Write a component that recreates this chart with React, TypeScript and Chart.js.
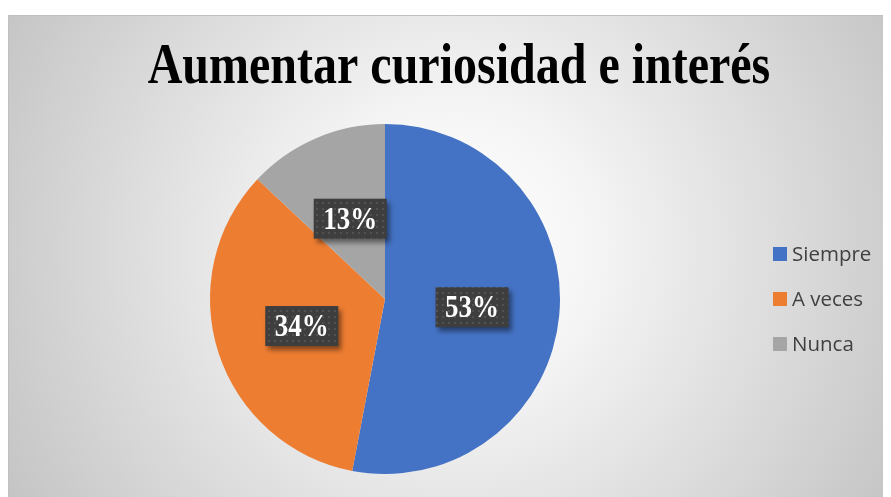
import React, { useEffect, useRef } from "react";
import { Chart, registerables } from "chart.js";

Chart.register(...registerables);

const chartTitle = "Aumentar curiosidad e interés";
const categories = ["Siempre", "A veces", "Nunca"];
const values = [53, 34, 13];
const sliceColors = ["#4472C4", "#ED7D31", "#A5A5A5"];

const W = 883;
const H = 489;

function makeDotPattern(ctx: CanvasRenderingContext2D) {
  const c = document.createElement("canvas");
  c.width = 6;
  c.height = 6;
  const p = c.getContext("2d")!;
  p.fillStyle = "#3e3e3e";
  p.fillRect(0, 0, 6, 6);
  p.fillStyle = "#525252";
  p.fillRect(2, 2, 2, 2);
  return ctx.createPattern(c, "repeat");
}

const decorPlugin = {
  id: "decor",
  beforeDraw(chart: any) {
    const ctx: CanvasRenderingContext2D = chart.ctx;
    ctx.save();
    ctx.fillStyle = "#ffffff";
    ctx.fillRect(0, 0, W, H);
    const g = ctx.createRadialGradient(445, 240, 0, 445, 240, 520);
    g.addColorStop(0, "#ffffff");
    g.addColorStop(0.25, "#f6f6f6");
    g.addColorStop(1, "#c3c3c3");
    ctx.fillStyle = g;
    ctx.fillRect(0, 7, W, H - 7);
    ctx.strokeStyle = "#c0c0c0";
    ctx.lineWidth = 1;
    ctx.beginPath();
    ctx.moveTo(0.5, H);
    ctx.lineTo(0.5, 7.5);
    ctx.lineTo(W, 7.5);
    ctx.stroke();

    // title
    ctx.fillStyle = "#000000";
    ctx.font = "bold 48px 'Liberation Serif'";
    ctx.textAlign = "center";
    ctx.textBaseline = "alphabetic";
    ctx.translate(451, 75);
    ctx.scale(1, 1.18);
    ctx.fillText(chartTitle, 0, 0);
    ctx.restore();
  },
  afterDatasetsDraw(chart: any) {
    const ctx: CanvasRenderingContext2D = chart.ctx;
    const meta = chart.getDatasetMeta(0);
    const pattern = makeDotPattern(ctx);
    meta.data.forEach((arc: any, i: number) => {
      const pos = arc.tooltipPosition();
      const text = values[i] + "%";
      ctx.save();
      ctx.font = "bold 27px 'Liberation Serif'";
      const tw = ctx.measureText(text).width;
      const bw = tw + 19;
      const bh = 40;
      const bx = pos.x - bw / 2;
      const by = pos.y - bh / 2;
      ctx.shadowColor = "rgba(0,0,0,0.45)";
      ctx.shadowBlur = 5;
      ctx.shadowOffsetX = 3;
      ctx.shadowOffsetY = 4;
      ctx.fillStyle = pattern || "#404040";
      ctx.fillRect(bx, by, bw, bh);
      ctx.shadowColor = "transparent";
      ctx.fillStyle = "#ffffff";
      ctx.textAlign = "center";
      ctx.textBaseline = "alphabetic";
      ctx.translate(pos.x, pos.y + 10);
      ctx.scale(1, 1.15);
      ctx.fillText(text, 0, 0);
      ctx.restore();
    });
  },
  afterDraw(chart: any) {
    const ctx: CanvasRenderingContext2D = chart.ctx;
    const labels: string[] = chart.data.labels;
    const colors: string[] = chart.data.datasets[0].backgroundColor;
    ctx.save();
    ctx.font = "20.5px 'Open Sans'";
    ctx.textBaseline = "middle";
    ctx.textAlign = "left";
    labels.forEach((lab, i) => {
      const cy = 246 + i * 45;
      ctx.fillStyle = colors[i];
      ctx.fillRect(765, cy - 7, 14, 14);
      ctx.fillStyle = "#404040";
      ctx.fillText(lab, 784, cy + 1);
    });
    ctx.restore();
  },
};

export default function App() {
  const ref = useRef<HTMLCanvasElement | null>(null);
  useEffect(() => {
    if (!ref.current) return;
    const chart = new Chart(ref.current, {
      type: "pie",
      data: {
        labels: categories,
        datasets: [
          {
            data: values,
            backgroundColor: sliceColors,
            borderWidth: 0,
          },
        ],
      },
      options: {
        responsive: false,
        animation: false,
        devicePixelRatio: 1,
        layout: { padding: { left: 202, top: 116, right: 331, bottom: 23 } },
        plugins: {
          legend: { display: false },
          tooltip: { enabled: false },
          title: { display: false },
        },
      },
      plugins: [decorPlugin],
    } as any);
    return () => chart.destroy();
  }, []);
  return (
    <canvas
      ref={ref}
      width={W}
      height={H}
      style={{ display: "block", width: W + "px", height: H + "px" }}
    />
  );
}
